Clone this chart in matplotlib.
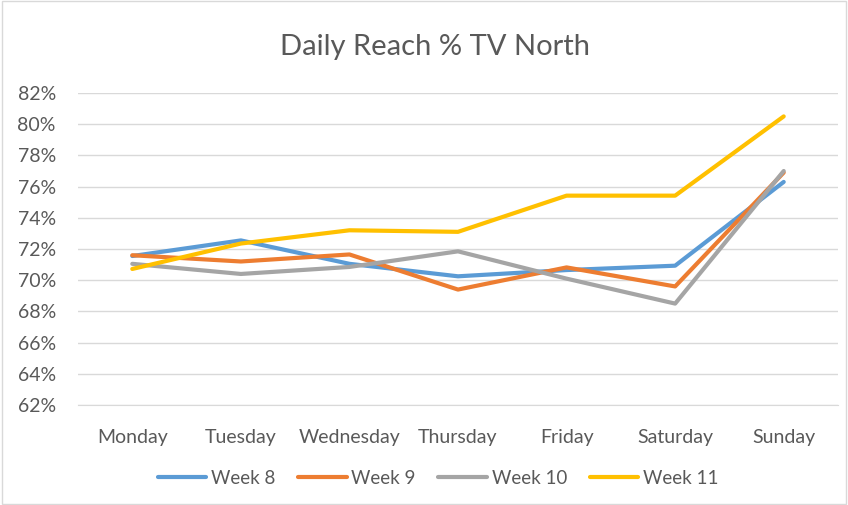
import matplotlib.pyplot as plt
from matplotlib.patches import Rectangle
from matplotlib.ticker import FuncFormatter

days = ["Monday", "Tuesday", "Wednesday", "Thursday", "Friday", "Saturday", "Sunday"]
week8 = [71.55, 72.55, 71.05, 70.25, 70.65, 70.93, 76.3]
week9 = [71.6, 71.2, 71.65, 69.4, 70.82, 69.6, 76.9]
week10 = [71.05, 70.4, 70.85, 71.85, 70.1, 68.5, 77.0]
week11 = [70.72, 72.35, 73.2, 73.1, 75.42, 75.42, 80.5]

series = [
    ("Week 8", week8, "#5B9BD5"),
    ("Week 9", week9, "#ED7D31"),
    ("Week 10", week10, "#A5A5A5"),
    ("Week 11", week11, "#FFC000"),
]

plt.rcParams["font.family"] = ["Lato", "DejaVu Sans"]

fig = plt.figure(figsize=(8.48, 5.05), dpi=100)
ax = fig.add_axes([78 / 848, 1 - 405 / 505, 760 / 848, 312 / 505])

x = list(range(len(days)))
for name, vals, color in series:
    ax.plot(x, vals, color=color, linewidth=3.0, label=name, solid_capstyle="round")

ax.set_xlim(-0.5, len(days) - 0.5)
ax.set_ylim(62, 82)
ax.set_yticks(range(62, 83, 2))
ax.yaxis.set_major_formatter(FuncFormatter(lambda v, _: f"{v:.0f}%"))
ax.set_xticks(x)
ax.set_xticklabels(days)
ax.grid(axis="y", color="#D9D9D9", linewidth=1)
ax.set_axisbelow(True)
for s in ["top", "right", "left"]:
    ax.spines[s].set_visible(False)
ax.spines["bottom"].set_color("#D9D9D9")
ax.tick_params(length=0, labelsize=14, colors="#595959")
ax.tick_params(axis="x", pad=17)
ax.tick_params(axis="y", pad=16)

fig.suptitle("Daily Reach % TV North", x=435 / 848, y=1 - 47 / 505, va="center",
             fontsize=21, color="#595959")

fig.legend(loc="center", bbox_to_anchor=(438 / 848, 1 - 478 / 505), ncol=4,
           frameon=False, fontsize=13.5, labelcolor="#595959", handlelength=2.6,
           handletextpad=0.25, columnspacing=1.2)

fig.patches.append(Rectangle((0.002, 0.002), 0.996, 0.996, transform=fig.transFigure,
                             fill=False, edgecolor="#D9D9D9", linewidth=1))

fig.savefig("out.png", dpi=100)
